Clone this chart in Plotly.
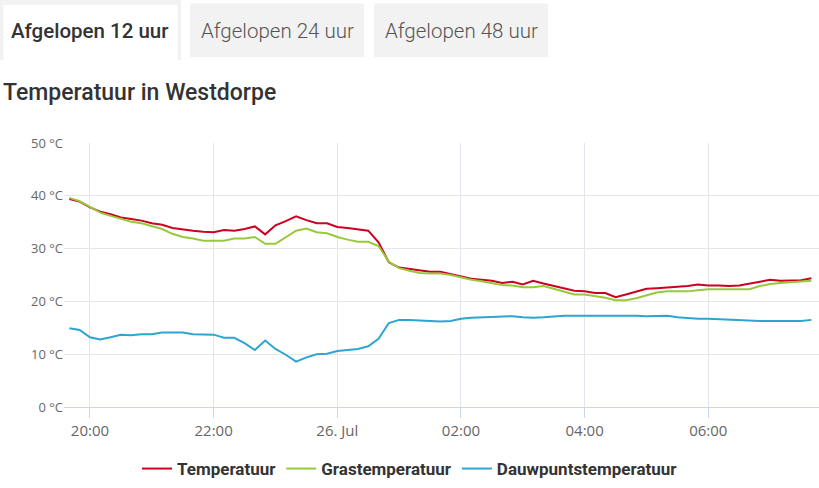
import pandas as pd
import plotly.graph_objects as go

# measurements every 10 minutes, 25 Jul 19:40 -> 26 Jul 07:40
times = pd.date_range("2021-07-25 19:40", "2021-07-26 07:40", freq="10min")

temperatuur = [
    39.4, 38.9, 37.8, 37.0, 36.5, 35.9, 35.6, 35.3, 34.8, 34.5,
    33.9, 33.6, 33.4, 33.2, 33.1, 33.5, 33.4, 33.7, 34.2, 32.7,
    34.4, 35.2, 36.1, 35.4, 34.8, 34.8, 34.1, 33.9, 33.6, 33.4,
    31.2, 27.4, 26.4, 26.1, 25.8, 25.6, 25.6, 25.2, 24.7, 24.3,
    24.1, 23.9, 23.5, 23.7, 23.2, 23.9, 23.4, 22.9, 22.4, 22.0,
    21.9, 21.6, 21.6, 20.8, 21.3, 21.9, 22.4, 22.5, 22.6, 22.7,
    22.9, 23.2, 23.0, 23.0, 22.9, 23.0, 23.4, 23.7, 24.1, 23.9,
    23.9, 24.0, 24.4,
]
grastemperatuur = [
    39.6, 39.0, 37.9, 36.8, 36.2, 35.6, 35.1, 34.8, 34.2, 33.7,
    32.8, 32.2, 31.9, 31.5, 31.5, 31.5, 31.9, 31.9, 32.2, 30.9,
    30.9, 32.2, 33.4, 33.8, 33.1, 32.9, 32.2, 31.7, 31.3, 31.3,
    30.5, 27.5, 26.3, 25.8, 25.4, 25.3, 25.3, 25.0, 24.5, 24.1,
    23.8, 23.5, 23.1, 23.0, 22.7, 22.7, 22.9, 22.4, 21.9, 21.3,
    21.3, 21.0, 20.7, 20.2, 20.2, 20.6, 21.2, 21.7, 21.9, 21.9,
    21.9, 22.1, 22.3, 22.3, 22.3, 22.2, 22.3, 22.9, 23.3, 23.5,
    23.6, 23.7, 23.9,
]
dauwpunt = [
    14.9, 14.6, 13.2, 12.8, 13.2, 13.7, 13.6, 13.8, 13.8, 14.1,
    14.1, 14.1, 13.8, 13.8, 13.7, 13.1, 13.1, 12.1, 10.8, 12.6,
    11.0, 9.9, 8.6, 9.4, 10.0, 10.1, 10.6, 10.8, 11.0, 11.5,
    12.9, 15.9, 16.5, 16.5, 16.4, 16.2, 16.2, 16.3, 16.7, 16.9,
    17.0, 17.0, 17.2, 17.2, 17.0, 16.9, 17.0, 17.2, 17.3, 17.3,
    17.3, 17.4, 17.4, 17.3, 17.3, 17.3, 17.2, 17.2, 17.3, 17.0,
    16.8, 16.7, 16.7, 16.6, 16.5, 16.4, 16.3, 16.3, 16.3, 16.3,
    16.4, 16.3, 16.5,
]

tick_times = ["2021-07-25 20:00", "2021-07-25 22:00", "2021-07-26 00:00",
              "2021-07-26 02:00", "2021-07-26 04:00", "2021-07-26 06:00"]
tick_labels = ["20:00", "22:00", "26. Jul", "02:00", "04:00", "06:00"]

tabs = ["Afgelopen 12 uur", "Afgelopen 24 uur", "Afgelopen 48 uur"]
title = "Temperatuur in Westdorpe"

W, H = 819, 488
ML, MR, MT, MB = 64, 0, 143, 81
PW, PH = W - ML - MR, H - MT - MB


def px(x):
    return (x - ML) / PW


def py(y):
    return (H - MB - y) / PH


fig = go.Figure()
series = [
    ("Temperatuur", temperatuur, "#cc0020"),
    ("Grastemperatuur", grastemperatuur, "#97c93d"),
    ("Dauwpuntstemperatuur", dauwpunt, "#2ca5d0"),
]
for name, vals, col in series:
    fig.add_trace(go.Scatter(x=times, y=vals, mode="lines", name=name,
                             line=dict(color=col, width=2)))

# tabs drawn as shapes
shapes = [
    dict(type="rect", x0=px(0), x1=px(181), y0=py(0), y1=py(60),
         fillcolor="#f2f2f2", line_width=0, layer="below"),
    dict(type="rect", x0=px(3.5), x1=px(177.5), y0=py(5), y1=py(61),
         fillcolor="white", line_width=0, layer="below"),
    dict(type="rect", x0=px(190), x1=px(364), y0=py(3.5), y1=py(57),
         fillcolor="#f2f2f2", line_width=0, layer="below"),
    dict(type="rect", x0=px(374), x1=px(548), y0=py(3.5), y1=py(57),
         fillcolor="#f2f2f2", line_width=0, layer="below"),
]
for s in shapes:
    s["xref"] = "paper"
    s["yref"] = "paper"

annotations = []
for i, (label, cx) in enumerate(zip(tabs, [90, 277, 461])):
    annotations.append(dict(
        text=label, x=px(cx), y=py(31), xref="paper", yref="paper",
        showarrow=False, xanchor="center", yanchor="middle",
        font=dict(family="Roboto", size=20.5,
                  color="#333333" if i == 0 else "#555555",
                  weight=500 if i == 0 else 300)))
annotations.append(dict(
    text=title, x=px(1), y=py(93), xref="paper", yref="paper",
    showarrow=False, xanchor="left", yanchor="middle",
    font=dict(family="Roboto", size=23, color="#333333", weight=500)))

fig.update_layout(
    width=W, height=H,
    margin=dict(l=ML, r=MR, t=MT, b=MB),
    paper_bgcolor="white", plot_bgcolor="white",
    shapes=shapes, annotations=annotations,
    showlegend=True,
    legend=dict(orientation="h", x=px(410), xanchor="center",
                y=py(469), yanchor="middle", itemwidth=30,
                font=dict(family="Roboto", size=17, color="#333333",
                          weight=700)),
    font=dict(family="Open Sans", color="#666666"),
)
fig.update_xaxes(
    type="date",
    range=["2021-07-25 19:34:48", "2021-07-26 07:47:24"],
    tickvals=tick_times, ticktext=tick_labels,
    showgrid=True, gridcolor="#e1e6ee", gridwidth=1,
    showline=True, linecolor="#ccd6eb", linewidth=1,
    ticks="outside", ticklen=10, tickcolor="#ccd6eb",
    tickfont=dict(size=15, color="#666666"),
    zeroline=False,
)
fig.update_yaxes(
    range=[0, 50], dtick=10, ticksuffix=" °C",
    showgrid=True, gridcolor="#e6e6e6", gridwidth=1,
    zeroline=False, showline=False,
    tickfont=dict(size=13, color="#666666"),
)

fig.write_html("out.html", config={"displayModeBar": False},
               post_script="document.body.style.margin='0';")
